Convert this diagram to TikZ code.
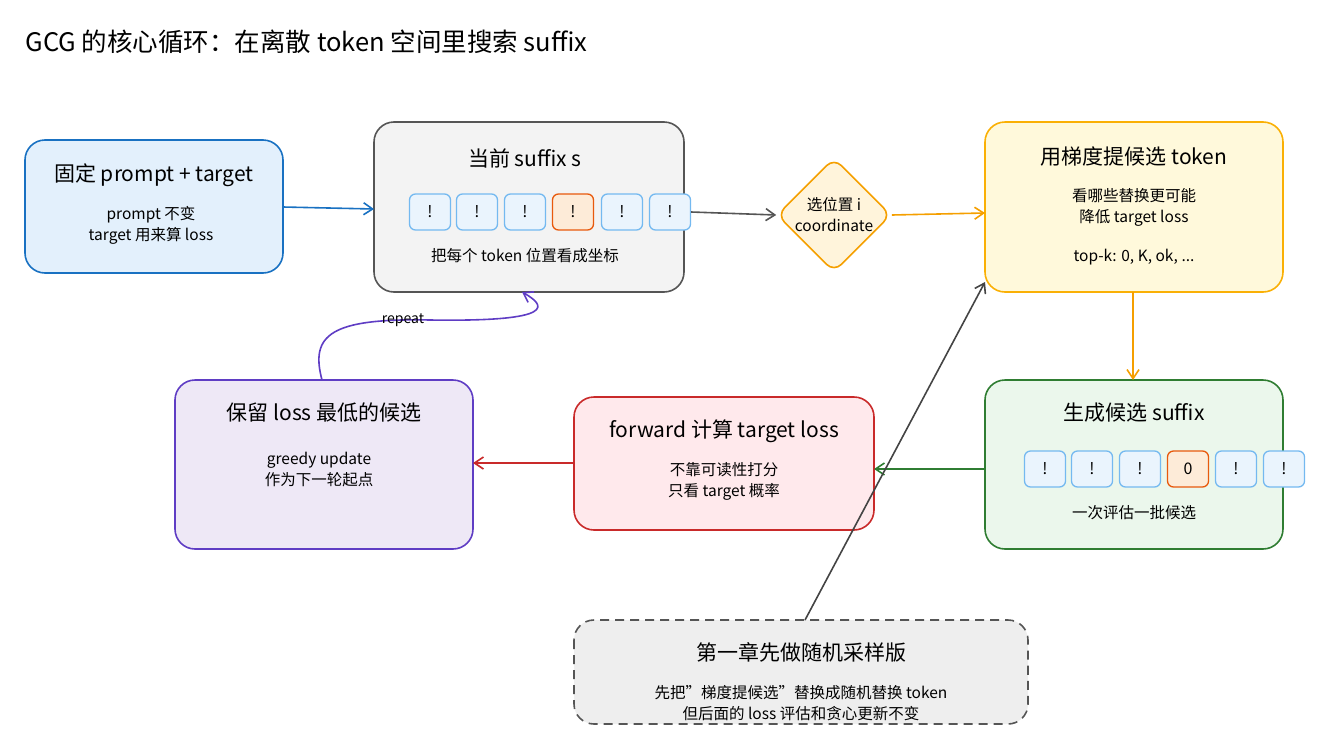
\documentclass[tikz,border=0pt]{standalone}
\usepackage{fontspec}
\setmainfont{Noto Sans CJK SC}
\usetikzlibrary{shapes.geometric,arrows.meta}
\definecolor{blueS}{HTML}{1971C2}\definecolor{blueF}{HTML}{E3F0FC}
\definecolor{grayS}{HTML}{555555}\definecolor{grayF}{HTML}{F3F3F3}
\definecolor{orS}{HTML}{F59F00}\definecolor{orF}{HTML}{FFF4DB}
\definecolor{yelS}{HTML}{FAB005}\definecolor{yelF}{HTML}{FFF9DB}
\definecolor{grS}{HTML}{2F7D32}\definecolor{grF}{HTML}{EBF7EC}
\definecolor{redS}{HTML}{C92A2A}\definecolor{redF}{HTML}{FFE9EC}
\definecolor{puS}{HTML}{5F3DC4}\definecolor{puF}{HTML}{EEE8F6}
\definecolor{tokS}{HTML}{74B9F0}\definecolor{tokF}{HTML}{EAF4FD}
\definecolor{hiS}{HTML}{E8590C}\definecolor{hiF}{HTML}{FDEBD8}
\definecolor{noteF}{HTML}{EEEEEE}
\tikzset{
  box/.style={draw=#1, line width=1.6pt, rounded corners=20pt, inner sep=0pt},
  tok/.style={draw=tokS, fill=tokF, line width=1.3pt, rounded corners=6pt,
    minimum width=41pt, minimum height=36pt, inner sep=0pt, font=\fontsize{16}{16}\selectfont},
  hitok/.style={tok, draw=hiS, fill=hiF},
  ttl/.style={font=\fontsize{21}{22}\selectfont},
  txt/.style={font=\fontsize{15.5}{21}\selectfont, align=center},
  arr/.style={-{Straight Barb[length=9pt,width=12pt]}, line width=1.6pt, draw=#1},
}
\begin{document}
\begin{tikzpicture}[x=1pt,y=-1pt]
\useasboundingbox (0,0) rectangle (1330,755);
% title
\node[anchor=west, font=\fontsize{25.5}{26}\selectfont] (title) at (22,42) {GCG 的核心循环：在离散 token 空间里搜索 suffix};
% boxes
\draw[box=blueS, fill=blueF] (25,140) rectangle (283,273);
\coordinate (fixL) at (25,207); \coordinate (fixR) at (283,207);
\node[ttl] (fixT) at (154,175) {固定 prompt + target};
\node[txt] (fixB) at (151,225) {prompt 不变\\target 用来算 loss};
\draw[box=grayS, fill=grayF] (374,122) rectangle (684,292);
\coordinate (curL) at (374,209); \coordinate (curB) at (522,292);
\node[ttl] (curT) at (525,158) {当前 suffix s};
\foreach \x [count=\i] in {430,477,525,573,622,670}{
  \ifnum\i=4 \node[hitok] (c\i) at (\x,212) {!};
  \else \node[tok] (c\i) at (\x,212) {!}; \fi
}
\node[txt] (curB2) at (525,256) {把每个 token 位置看成坐标};
\node[diamond, draw=orS, fill=orF, line width=1.6pt, rounded corners=10pt,
  minimum width=114pt, minimum height=114pt, inner sep=0pt,
  font=\fontsize{15.5}{21}\selectfont, align=center] (pos) at (834,215) {选位置 i\\coordinate};
\draw[box=yelS, fill=yelF] (985,122) rectangle (1283,292);
\coordinate (grdL) at (985,213); \coordinate (grdB) at (1133,292); \coordinate (grdC) at (985,282);
\node[ttl] (grdT) at (1134,157) {用梯度提候选 token};
\node[txt] (grdB2) at (1134,207) {看哪些替换更可能\\降低 target loss};
\node[txt] (grdK) at (1134,257) {top-k: 0, K, ok, ...};
\draw[box=grS, fill=grF] (985,380) rectangle (1283,549);
\coordinate (genT) at (1133,380); \coordinate (genL) at (985,469);
\node[ttl] (genT2) at (1134,413) {生成候选 suffix};
\foreach \x [count=\i] in {1045,1092,1140,1188,1236,1284}{
  \ifnum\i=4 \node[hitok] (g\i) at (\x,469) {0};
  \else \node[tok] (g\i) at (\x,469) {!}; \fi
}
\node[txt] (genB) at (1134,513) {一次评估一批候选};
\draw[box=redS, fill=redF] (574,397) rectangle (874,530);
\coordinate (fwdR) at (874,469); \coordinate (fwdL) at (574,463);
\node[ttl] (fwdT) at (724,431) {forward 计算 target loss};
\node[txt] (fwdB) at (724,481) {不靠可读性打分\\只看 target 概率};
\draw[box=puS, fill=puF] (175,380) rectangle (473,549);
\coordinate (keepR) at (473,463); \coordinate (keepT) at (322,380);
\node[ttl] (keepT2) at (324,413) {保留 loss 最低的候选};
\node[txt] (keepB) at (319,470) {greedy update\\作为下一轮起点};
\draw[box=grayS, fill=noteF, dashed, dash pattern=on 9pt off 6pt] (574,620) rectangle (1028,724);
\coordinate (noteT) at (805,620);
\node[ttl] (noteT2) at (801,652) {第一章先做随机采样版};
\node[txt] (noteB) at (801,703) {先把"梯度提候选"替换成随机替换 token\\但后面的 loss 评估和贪心更新不变};
% connectors
\draw[arr=blueS] (fixR) -- (curL);
\draw[arr=grayS] (c6.east) -- (pos.west);
\draw[arr=orS] (pos.east) -- (grdL);
\draw[arr=orS] (grdB) -- (genT);
\draw[arr=grS] (genL) -- (fwdR);
\draw[arr=redS] (fwdL) -- (keepR);
\draw[arr=puS] (keepT) .. controls (310,335) and (330,318) .. (430,320)
  .. controls (560,322) and (545,305) .. (curB);
\node[font=\fontsize{14}{14}\selectfont] (repeat) at (403,320) {repeat};
\draw[arr=grayS!80!black] (noteT) -- (grdC);
\end{tikzpicture}
\end{document}
